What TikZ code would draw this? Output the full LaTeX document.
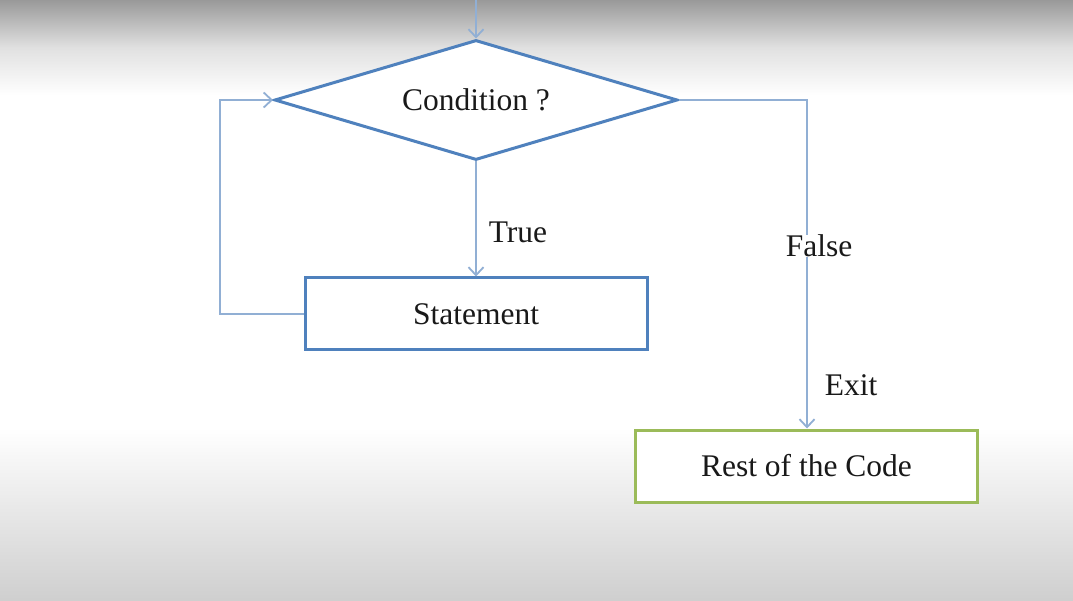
\documentclass[tikz,border=0pt]{standalone}
\usepackage{fontspec}
\setmainfont{Liberation Serif}
\usetikzlibrary{shapes.geometric,arrows.meta}
\definecolor{boxblue}{RGB}{79,129,189}
\definecolor{linkblue}{RGB}{145,175,212}
\definecolor{boxgreen}{RGB}{155,187,89}
\definecolor{txt}{RGB}{25,25,25}
\tikzset{
  lbl/.style={font=\fontsize{31.5}{36}\selectfont, text=txt},
  flowbox/.style={draw=boxblue, line width=3pt, fill=white, minimum width=342pt, minimum height=72pt, inner sep=0pt, lbl},
  endbox/.style={flowbox, draw=boxgreen},
  cond/.style={draw=boxblue, line width=3pt, fill=white, diamond, aspect=3.36, minimum width=403pt, minimum height=120pt, inner sep=0pt, lbl},
  link/.style={draw=linkblue, line width=2.2pt, -{Straight Barb[length=8pt,width=15pt,line width=1.8pt]}},
}
\begin{document}
\begin{tikzpicture}[x=1pt,y=-1pt]
\useasboundingbox (0,0) rectangle (1073,601);
% background
\fill[white] (0,0) rectangle (1073,601);
\shade[top color=black!40, bottom color=white, middle color=black!12] (0,0) rectangle (1073,95);
\shade[top color=white, bottom color=black!19] (0,428) rectangle (1073,601);
% nodes
\node[cond] (c) at (476,100) {Condition ?};
\node[flowbox] (s) at (476,314) {Statement};
\node[endbox] (r) at (806.5,466) {Rest of the Code};
\coordinate (in) at (476,0);
\coordinate (lp) at (220,314);
\coordinate (fr) at (807,100);
% connectors
\draw[link] (in) -- (c.north);
\draw[link] (c.south) -- (s.north);
\draw[link] (s.west) -- (lp) |- (c.west);
\draw[link] (c.east) -- (fr) -- (fr |- r.north);
\node[lbl] (t) at (518,232) {True};
\node[lbl, fill=white, inner sep=0pt] (f) at (819,246) {False};
\node[lbl] (e) at (851,385) {Exit};
\end{tikzpicture}
\end{document}
